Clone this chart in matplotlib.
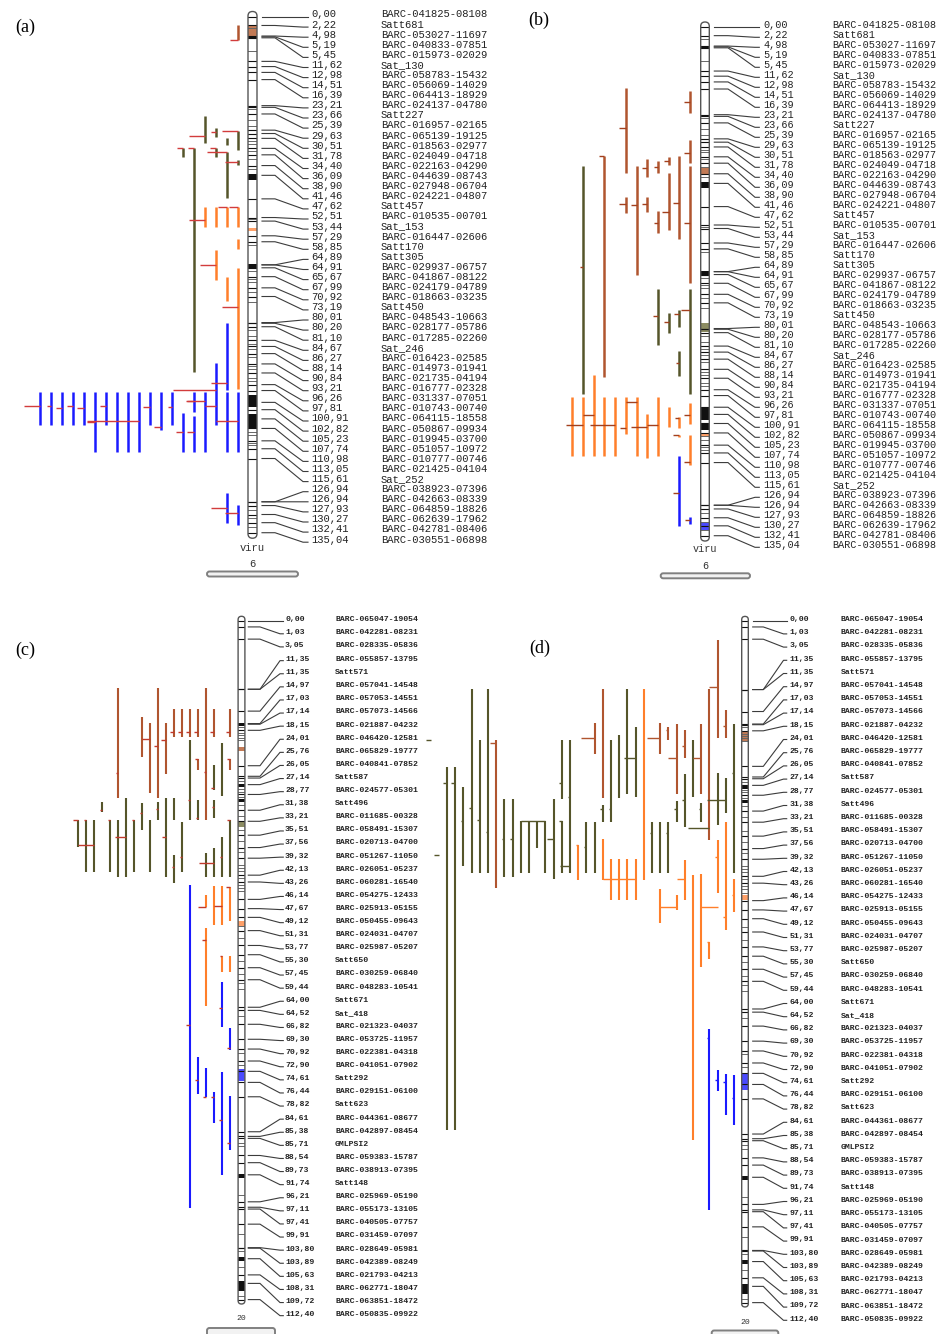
import matplotlib
matplotlib.use("Agg")
import matplotlib.pyplot as plt
from matplotlib.patches import FancyBboxPatch, Rectangle
from matplotlib import font_manager

# ---------------------------------------------------------------- data
# linkage group "viru" (6): marker positions (cM) and names
gm6_pos = [0.00, 2.22, 4.98, 5.19, 5.45, 11.62, 12.98, 14.51, 16.39, 23.21, 23.66,
           25.39, 29.63, 30.51, 31.78, 34.40, 36.09, 38.90, 41.46, 47.62, 52.51,
           53.44, 57.29, 58.85, 64.89, 64.91, 65.67, 67.99, 70.92, 73.19, 80.01,
           80.20, 81.10, 84.67, 86.27, 88.14, 90.84, 93.21, 96.26, 97.81, 100.91,
           102.82, 105.23, 107.74, 110.98, 113.05, 115.61, 126.94, 126.94, 127.93,
           130.27, 132.41, 135.04]
gm6_names = ["BARC-041825-08108", "Satt681", "BARC-053027-11697", "BARC-040833-07851",
             "BARC-015973-02029", "Sat_130", "BARC-058783-15432", "BARC-056069-14029",
             "BARC-064413-18929", "BARC-024137-04780", "Satt227", "BARC-016957-02165",
             "BARC-065139-19125", "BARC-018563-02977", "BARC-024049-04718",
             "BARC-022163-04290", "BARC-044639-08743", "BARC-027948-06704",
             "BARC-024221-04807", "Satt457", "BARC-010535-00701", "Sat_153",
             "BARC-016447-02606", "Satt170", "Satt305", "BARC-029937-06757",
             "BARC-041867-08122", "BARC-024179-04789", "BARC-018663-03235", "Satt450",
             "BARC-048543-10663", "BARC-028177-05786", "BARC-017285-02260", "Sat_246",
             "BARC-016423-02585", "BARC-014973-01941", "BARC-021735-04194",
             "BARC-016777-02328", "BARC-031337-07051", "BARC-010743-00740",
             "BARC-064115-18558", "BARC-050867-09934", "BARC-019945-03700",
             "BARC-051057-10972", "BARC-010777-00746", "BARC-021425-04104", "Sat_252",
             "BARC-038923-07396", "BARC-042663-08339", "BARC-064859-18826",
             "BARC-062639-17962", "BARC-042781-08406", "BARC-030551-06898"]
gm6_extra = [3.0, 9.0, 24.2, 27.0, 28.5, 32.5, 33.2, 35.0, 37.2, 39.8, 53.0, 59.8,
             66.5, 68.5, 69.3, 72.0, 74.5, 82.0, 83.5, 85.5, 87.0, 89.0, 91.5, 92.3,
             94.5, 95.3, 108.6, 109.5, 111.5, 112.2, 129.0, 131.3, 133.5]

# linkage group 20
gm20_pos = [0.00, 1.03, 3.05, 11.35, 11.35, 14.97, 17.03, 17.14, 18.15, 24.01, 25.76,
            26.05, 27.14, 28.77, 31.38, 33.21, 35.51, 37.56, 39.32, 42.13, 43.26, 46.14,
            47.67, 49.12, 51.31, 53.77, 55.30, 57.45, 59.44, 64.00, 64.52, 66.82, 69.30,
            70.92, 72.90, 74.61, 76.44, 78.82, 84.61, 85.38, 85.71, 88.54, 89.73, 91.74,
            96.21, 97.11, 97.41, 99.91, 103.80, 103.89, 105.63, 108.31, 109.72, 112.40]
gm20_names = ["BARC-065047-19054", "BARC-042281-08231", "BARC-028335-05836",
              "BARC-055857-13795", "Satt571", "BARC-057041-14548", "BARC-057053-14551",
              "BARC-057073-14566", "BARC-021887-04232", "BARC-046420-12581",
              "BARC-065829-19777", "BARC-040841-07852", "Satt587", "BARC-024577-05301",
              "Satt496", "BARC-011685-00328", "BARC-058491-15307", "BARC-020713-04700",
              "BARC-051267-11050", "BARC-026051-05237", "BARC-060281-16540",
              "BARC-054275-12433", "BARC-025913-05155", "BARC-050455-09643",
              "BARC-024031-04707", "BARC-025987-05207", "Satt650", "BARC-030259-06840",
              "BARC-048283-10541", "Satt671", "Sat_418", "BARC-021323-04037",
              "BARC-053725-11957", "BARC-022381-04318", "BARC-041051-07902", "Satt292",
              "BARC-029151-06100", "Satt623", "BARC-044361-08677", "BARC-042897-08454",
              "GMLPSI2", "BARC-059383-15787", "BARC-038913-07395", "Satt148",
              "BARC-025969-05190", "BARC-055173-13105", "BARC-040505-07757",
              "BARC-031459-07097", "BARC-028649-05981", "BARC-042389-08249",
              "BARC-021793-04213", "BARC-062771-18047", "BARC-063851-18472",
              "BARC-050835-09922"]
gm20_extra = [17.6, 18.6, 19.0, 19.4, 19.8, 26.6, 27.9, 28.3, 29.2, 30.5, 32.4, 34.6,
              36.5, 38.3, 40.5, 41.0, 41.5, 42.6, 43.8, 44.3, 44.8, 50.5, 52.6, 56.3,
              58.5, 60.0, 61.0, 65.5, 71.5, 73.5, 86.5, 87.0, 95.0, 101.5, 104.4,
              107.0, 111.8]

# QTL intervals: (column, trait, start cM, end cM, peak cM, peak-tick reach in columns)
qtl_a = [
    (0, 'br', 2.1, 6.0, 6.0, 0.7),
    (3, 'ol', 25.9, 32.9, 31.2, 1.4), (2, 'ol', 29.0, 31.3, 30.2, 0.4),
    (0, 'ol', 29.9, 34.8, 29.9, 1.4), (1, 'ol', 31.7, 33.5, 32.6, 0.0),
    (1, 'ol', 35.3, 47.4, 35.3, 1.8), (0, 'ol', 37.4, 38.8, 38.0, 1.2),
    (5, 'ol', 34.3, 36.7, 34.3, 0.5), (4, 'ol', 34.3, 93.0, 34.3, 0.5),
    (2, 'ol', 34.3, 36.7, 34.3, 0.5),
    (3, 'or', 49.8, 54.9, 53.2, 1.4), (2, 'or', 49.8, 54.9, 53.2, 0.0),
    (1, 'or', 49.8, 54.9, 49.8, 0.8), (0, 'or', 49.8, 54.9, 49.8, 0.8),
    (0, 'or', 58.1, 60.7, 58.1, 0.0), (2, 'or', 61.0, 68.9, 64.9, 1.4),
    (1, 'or', 68.0, 74.4, 72.0, 0.0), (0, 'or', 65.7, 97.5, 75.9, 1.4),
    (1, 'bl', 80.2, 97.7, 95.8, 1.4), (2, 'bl', 90.7, 106.8, 101.9, 1.0),
    (2, 'bl', 97.7, 97.7, 97.7, 3.9),
    (18, 'bl', 98.1, 106.8, 101.9, 1.4), (17, 'bl', 98.1, 106.8, 101.9, 0.3),
    (16, 'bl', 98.1, 106.8, 102.4, 0.5), (15, 'bl', 98.1, 106.8, 101.9, 0.5),
    (14, 'bl', 98.1, 106.8, 102.4, 0.6), (13, 'bl', 98.1, 113.8, 106.0, 0.7),
    (12, 'bl', 98.1, 106.8, 101.9, 0.5), (11, 'bl', 98.1, 113.8, 106.0, 0.0),
    (10, 'bl', 98.1, 113.8, 106.0, 0.0), (9, 'bl', 98.1, 113.8, 105.8, 4.7),
    (8, 'bl', 98.1, 106.8, 102.2, 0.6), (7, 'bl', 98.1, 108.1, 107.3, 0.6),
    (6, 'bl', 98.1, 106.8, 102.2, 0.3), (5, 'bl', 103.7, 113.8, 108.7, 0.6),
    (4, 'bl', 98.1, 103.4, 100.6, 0.6), (4, 'bl', 104.6, 113.8, 108.7, 0.6),
    (3, 'bl', 98.1, 113.8, 100.6, 1.7), (1, 'bl', 98.1, 113.8, 105.8, 0.0),
    (0, 'bl', 98.1, 113.8, 105.8, 2.0),
    (1, 'bl', 124.7, 132.4, 128.6, 1.4), (0, 'bl', 127.8, 133.0, 130.0, 1.2),
]
qtl_b = [
    (6, 'br', 16.2, 38.8, 26.8, 0.6), (0, 'br', 16.8, 22.8, 19.8, 0.6),
    (0, 'br', 29.9, 36.1, 33.5, 0.6), (8, 'br', 34.2, 93.0, 34.2, 0.5),
    (5, 'br', 36.8, 65.8, 47.2, 0.5), (4, 'br', 35.1, 39.7, 37.5, 0.5),
    (3, 'br', 35.5, 38.8, 37.0, 0.4), (2, 'br', 34.4, 36.6, 35.4, 0.4),
    (1, 'br', 34.2, 56.3, 46.7, 0.6), (2, 'br', 38.8, 53.8, 49.0, 0.6),
    (3, 'br', 48.8, 54.7, 51.9, 0.4), (6, 'br', 45.0, 49.2, 46.9, 0.6),
    (4, 'br', 45.0, 49.0, 46.9, 0.5), (0, 'br', 36.8, 67.8, 52.1, 0.6),
    (10, 'ol', 36.8, 97.5, 63.6, 0.3), (3, 'ol', 69.6, 84.4, 76.7, 0.5),
    (2, 'ol', 75.8, 81.3, 78.2, 0.4), (1, 'ol', 75.1, 79.7, 76.2, 0.5),
    (0, 'ol', 69.6, 97.5, 75.1, 0.8), (1, 'ol', 85.9, 92.6, 89.2, 0.3),
    (9, 'or', 92.3, 113.8, 103.0, 1.0), (11, 'or', 98.1, 113.8, 105.6, 0.0),
    (10, 'or', 98.1, 113.8, 105.6, 1.6), (8, 'or', 98.1, 113.8, 105.6, 0.0),
    (7, 'or', 98.1, 113.8, 105.6, 2.3), (6, 'or', 98.1, 108.0, 106.3, 0.5),
    (5, 'or', 98.1, 113.8, 99.4, 1.0), (4, 'or', 102.7, 114.5, 106.1, 1.5),
    (3, 'or', 98.1, 113.8, 105.6, 1.0), (2, 'or', 100.8, 106.1, 103.4, 0.0),
    (1, 'or', 103.4, 106.5, 103.9, 0.4), (1, 'or', 108.3, 108.9, 108.3, 0.6),
    (0, 'or', 99.7, 105.4, 103.0, 0.6), (0, 'or', 108.3, 116.2, 115.4, 0.6),
    (1, 'bl', 113.8, 132.5, 123.6, 0.6), (0, 'bl', 130.0, 131.9, 130.9, 0.5),
]
qtl_c = [
    (14, 'br', 11.2, 29.3, 25.2, 0.3), (11, 'br', 15.9, 22.5, 19.6, 0.0),
    (10, 'br', 17.0, 28.6, 19.6, 1.0), (9, 'br', 11.2, 29.4, 20.7, 0.5),
    (8, 'br', 17.0, 25.3, 19.8, 0.6), (7, 'br', 14.7, 19.2, 18.4, 0.5),
    (6, 'br', 14.7, 19.2, 18.4, 0.5), (5, 'br', 14.7, 19.2, 18.4, 0.5),
    (4, 'br', 14.7, 19.2, 18.4, 0.5), (3, 'br', 11.2, 33.0, 25.0, 0.3),
    (2, 'br', 14.7, 19.2, 18.4, 0.5), (0, 'br', 14.7, 19.2, 18.4, 0.5),
    (4, 'br', 22.9, 24.7, 22.9, 0.4), (0, 'br', 22.9, 24.7, 22.9, 0.4),
    (5, 'ol', 19.8, 33.0, 29.7, 0.3), (2, 'ol', 23.9, 28.0, 27.7, 0.4),
    (1, 'ol', 20.3, 29.1, 26.5, 0.0), (16, 'ol', 30.0, 31.6, 31.3, 0.3),
    (13, 'ol', 29.4, 42.4, 35.8, 1.4), (11, 'ol', 30.2, 34.7, 31.8, 0.3),
    (9, 'ol', 30.0, 33.0, 31.2, 0.3), (8, 'ol', 29.4, 42.4, 35.8, 0.5),
    (7, 'ol', 29.4, 33.0, 31.3, 0.0), (7, 'ol', 38.8, 43.4, 40.7, 0.3),
    (6, 'ol', 33.3, 41.6, 39.1, 0.3), (4, 'ol', 29.7, 33.0, 32.7, 0.3),
    (2, 'ol', 29.7, 32.7, 30.8, 0.3), (19, 'ol', 33.0, 37.4, 33.0, 0.6),
    (18, 'ol', 33.0, 41.6, 33.0, 0.3), (17, 'ol', 33.0, 41.6, 37.1, 2.0),
    (15, 'ol', 33.0, 41.6, 33.0, 0.3), (14, 'ol', 33.0, 42.4, 35.8, 0.0),
    (12, 'ol', 33.0, 41.6, 33.0, 0.3), (10, 'ol', 33.0, 41.6, 33.0, 0.0),
    (3, 'ol', 38.5, 42.4, 40.1, 0.0), (2, 'ol', 37.7, 42.4, 40.1, 1.9),
    (1, 'ol', 35.8, 42.4, 39.2, 0.3), (0, 'ol', 33.0, 42.4, 33.0, 0.4),
    (0, 'or', 44.1, 49.7, 44.1, 0.5), (1, 'or', 44.0, 50.4, 47.2, 1.0),
    (2, 'or', 44.0, 50.4, 47.2, 0.0), (3, 'or', 45.4, 47.4, 47.4, 1.0),
    (3, 'or', 50.9, 63.8, 52.9, 0.5), (1, 'or', 55.5, 58.1, 55.5, 0.3),
    (0, 'or', 55.5, 58.1, 55.5, 0.0),
    (5, 'bl', 43.8, 97.2, 66.9, 0.5), (1, 'bl', 59.8, 67.2, 64.2, 0.4),
    (0, 'bl', 67.5, 71.1, 70.8, 0.4), (4, 'bl', 72.2, 78.4, 76.0, 0.4),
    (3, 'bl', 74.1, 78.8, 78.8, 0.4), (2, 'bl', 78.1, 83.1, 78.8, 0.4),
    (1, 'bl', 74.8, 91.8, 82.7, 0.4), (0, 'bl', 78.7, 87.6, 86.5, 0.4),
]
qtl_d = [
    (37, 'ol', 19.6, 19.6, 19.6, 0.6), (36, 'ol', 38.6, 38.6, 38.6, 0.6),
    (35, 'ol', 24.1, 84.0, 26.8, 0.5), (34, 'ol', 24.1, 84.0, 26.8, 0.5),
    (33, 'ol', 27.4, 40.5, 33.0, 0.3), (32, 'ol', 11.3, 41.6, 30.9, 0.3),
    (31, 'ol', 19.7, 41.6, 32.9, 0.3), (30, 'ol', 11.3, 41.6, 34.9, 0.3),
    (29, 'br', 19.7, 44.1, 20.2, 0.8), (28, 'ol', 29.4, 42.3, 35.9, 0.3),
    (27, 'ol', 29.4, 42.3, 35.9, 0.3), (26, 'ol', 33.0, 41.6, 33.0, 0.0),
    (25, 'ol', 33.0, 41.6, 33.0, 1.0), (24, 'ol', 33.0, 37.5, 33.0, 1.0),
    (23, 'ol', 33.0, 41.6, 33.0, 1.0), (22, 'ol', 29.4, 42.5, 35.9, 0.8),
    (21, 'ol', 19.7, 29.4, 26.8, 0.3), (21, 'ol', 33.0, 41.6, 33.0, 0.3),
    (20, 'ol', 19.7, 41.6, 29.0, 0.3), (20, 'ol', 40.5, 40.5, 40.5, 1.2),
    (19, 'or', 37.0, 42.7, 37.0, 0.3), (18, 'ol', 33.1, 41.6, 37.3, 0.3),
    (17, 'ol', 33.1, 41.6, 33.1, 0.0), (17, 'br', 16.9, 21.9, 19.3, 1.6),
    (16, 'br', 11.3, 29.3, 29.3, 0.0), (16, 'ol', 30.4, 33.1, 31.1, 0.3),
    (15, 'ol', 19.7, 33.1, 31.1, 0.3), (14, 'ol', 18.8, 29.3, 22.7, 0.0),
    (13, 'ol', 11.3, 28.5, 28.5, 0.0), (12, 'ol', 17.5, 29.0, 22.7, 1.4),
    (11, 'or', 11.3, 42.7, 19.3, 0.0), (10, 'ol', 33.1, 41.6, 35.0, 0.3),
    (9, 'br', 16.9, 21.9, 19.3, 1.6), (9, 'ol', 33.1, 41.6, 33.1, 0.0),
    (8, 'br', 17.5, 19.7, 18.0, 0.3), (8, 'ol', 33.1, 41.6, 35.0, 0.3),
    (7, 'br', 17.0, 28.5, 22.7, 1.0), (7, 'ol', 29.8, 33.1, 31.0, 0.3),
    (6, 'br', 18.0, 22.7, 20.7, 0.3), (6, 'ol', 25.2, 34.0, 29.6, 0.3),
    (5, 'ol', 19.7, 29.0, 22.7, 0.0), (4, 'br', 17.0, 28.5, 22.7, 1.0),
    (4, 'ol', 30.1, 33.1, 31.0, 0.3), (3, 'br', 11.3, 36.1, 36.1, 0.0),
    (3, 'ol', 34.2, 34.2, 34.2, 2.6), (2, 'br', 3.2, 19.4, 11.0, 1.0),
    (2, 'ol', 25.1, 33.7, 29.6, 0.0), (1, 'br', 14.7, 19.4, 17.4, 0.3),
    (1, 'ol', 26.0, 31.7, 29.6, 2.3), (0, 'ol', 17.0, 41.6, 25.1, 0.3),
    (16, 'or', 36.0, 42.7, 42.6, 0.0), (15, 'or', 39.3, 46.0, 42.6, 0.0),
    (14, 'or', 39.3, 46.0, 42.6, 0.0), (13, 'or', 39.3, 46.0, 42.6, 0.0),
    (12, 'or', 39.3, 46.0, 42.6, 4.0), (9, 'or', 44.3, 49.8, 49.8, 0.0),
    (7, 'or', 45.2, 47.7, 47.2, 2.0), (6, 'or', 39.4, 46.0, 42.6, 1.0),
    (5, 'or', 41.9, 85.6, 41.9, 0.0), (4, 'or', 41.8, 57.0, 47.2, 0.0),
    (2, 'or', 47.2, 47.2, 47.2, 2.0), (2, 'or', 36.1, 44.9, 38.9, 0.3),
    (3, 'or', 52.9, 55.8, 52.9, 0.3), (1, 'or', 33.1, 51.0, 48.9, 0.3),
    (0, 'or', 42.6, 48.0, 45.2, 0.3),
    (3, 'bl', 67.3, 97.2, 68.8, 0.3), (2, 'bl', 74.1, 77.6, 75.7, 0.3),
    (1, 'bl', 74.7, 81.5, 76.1, 0.3), (0, 'bl', 74.9, 83.2, 78.6, 0.3),
]

# coloured segments on the chromosome bar (start cM, end cM, trait)
bands_a = [(2.3, 5.8, 'br'), (55.2, 56.0, 'or')]
bands_b = [(37.4, 39.0, 'br'), (78.5, 80.8, 'ol'), (108.0, 108.8, 'or'), (131.3, 133.5, 'bl')]
bands_c = [(20.9, 21.5, 'br'), (33.3, 34.1, 'ol'), (49.7, 50.5, 'or'), (74.3, 76.2, 'bl')]
bands_d = [(18.3, 19.8, 'br'), (45.2, 46.0, 'or'), (74.7, 77.4, 'bl')]
# densely marked stretches drawn solid
dense_a = [(4.9, 5.5), (41.0, 42.8), (64.8, 65.8), (98.9, 102.0), (104.0, 107.5)]
dense_b = [(4.9, 5.5), (41.0, 42.8), (64.8, 65.8), (80.0, 80.4), (100.9, 104.4), (105.4, 107.0)]
dense_c = [(17.0, 17.4), (27.0, 27.6), (29.6, 30.0), (91.6, 92.2), (105.3, 106.0), (109.3, 111.0)]
dense_d = [(17.0, 17.4), (27.0, 27.8), (29.6, 30.0), (91.6, 92.2), (105.3, 106.0), (109.3, 111.0)]

# ---------------------------------------------------------------- style
TRAIT_COL = {'br': '#b0552f', 'ol': '#55552a', 'or': '#ff7f2a', 'bl': '#1a1aff'}
BAND_COL = {'br': '#c27a55', 'ol': '#8c8c62', 'or': '#ffa068', 'bl': '#4a4aff'}

names_avail = {f.name for f in font_manager.fontManager.ttflist}
MONO = 'Liberation Mono' if 'Liberation Mono' in names_avail else 'DejaVu Sans Mono'
if 'Liberation Sans Narrow' in names_avail:
    NARROW, NARROW_FS, NARROW_W = 'Liberation Sans Narrow', 7.2, 'normal'
else:
    NARROW, NARROW_FS, NARROW_W = MONO, 5.9, 'bold'
SERIF = 'Liberation Serif' if 'Liberation Serif' in names_avail else 'DejaVu Serif'

W_PX, H_PX = 940, 1334
fig = plt.figure(figsize=(W_PX / 100, H_PX / 100), dpi=100)
fig.patch.set_facecolor('white')


def spread_rows(pos, gap, low):
    """Least-squares label rows keeping at least `gap` between neighbours."""
    z = [p - i * gap for i, p in enumerate(pos)]
    blocks = []
    for v in z:
        blocks.append([v, 1])
        while len(blocks) > 1 and blocks[-2][0] / blocks[-2][1] > blocks[-1][0] / blocks[-1][1]:
            s, c = blocks.pop()
            blocks[-1][0] += s
            blocks[-1][1] += c
    fit = []
    for s, c in blocks:
        fit += [max(s / c, low)] * c
    return [f + i * gap for i, f in enumerate(fit)]


def draw_map(region, y0, k, cx, cw, pos, names, extra, bands, dense, qtl,
             leads, num_x, name_x, font, fs, weight, row_px, slot0, step, bar_lw,
             tick_col, foot, scale_y, capsule, tag, tag_xy):
    L, T, Wd, Ht = region
    ax = fig.add_axes([L / W_PX, 1 - (T + Ht) / H_PX, Wd / W_PX, Ht / H_PX])
    ax.set_xlim(L, L + Wd)
    ax.set_ylim((T + Ht - y0) / k, (T - y0) / k)
    ax.axis('off')
    ax.patch.set_alpha(0)

    def cm(ypx):
        return (ypx - y0) / k

    # chromosome bar
    pad = (cw / 2 + 1) / k
    top, bot = pos[0] - pad, pos[-1] + pad
    body = FancyBboxPatch((cx - cw / 2, top), cw, bot - top,
                          boxstyle=f"round,pad=0,rounding_size={cw / 2}",
                          mutation_aspect=1 / k, facecolor='white',
                          edgecolor='none', zorder=2)
    ax.add_patch(body)
    for s, e, t in bands:
        r = Rectangle((cx - cw / 2, s), cw, e - s, facecolor=BAND_COL[t],
                      edgecolor='none', zorder=3)
        ax.add_patch(r)
        r.set_clip_path(body)
    for s, e in dense:
        r = Rectangle((cx - cw / 2, s), cw, e - s, facecolor='#111',
                      edgecolor='none', zorder=4)
        ax.add_patch(r)
        r.set_clip_path(body)
    for p in extra:
        ln, = ax.plot([cx - cw / 2, cx + cw / 2], [p, p], color='#666', lw=0.7, zorder=4)
        ln.set_clip_path(body)
    for p in pos:
        ln, = ax.plot([cx - cw / 2, cx + cw / 2], [p, p], color='#111', lw=0.8, zorder=4)
        ln.set_clip_path(body)
    outline = FancyBboxPatch((cx - cw / 2, top), cw, bot - top,
                             boxstyle=f"round,pad=0,rounding_size={cw / 2}",
                             mutation_aspect=1 / k, facecolor='none',
                             edgecolor='#555', lw=1.0, zorder=5)
    ax.add_patch(outline)

    # marker leaders and labels
    rows = spread_rows(pos, row_px / k, pos[0])
    x0, x1, x2, x3 = leads
    for p, r, nm in zip(pos, rows, names):
        ax.plot([x0, x1, x2, x3], [p, p, r, r], color='#3c3c3c', lw=0.8,
                solid_joinstyle='miter', zorder=3)
        ax.text(num_x, r + 0.4 / k, f"{p:.2f}".replace('.', ','), fontsize=fs,
                family=font, weight=weight, color='#222', va='baseline', ha='left')
        ax.text(name_x, r + 0.4 / k, nm, fontsize=fs, family=font, weight=weight,
                color='#222', va='baseline', ha='left')

    # QTL intervals with peak ticks
    for slot, trait, s, e, pk, reach in qtl:
        x = slot0 - slot * step
        col = TRAIT_COL[trait]
        if e > s:
            ax.plot([x, x], [s, e], color=col, lw=bar_lw, solid_capstyle='butt', zorder=6)
        if reach > 0:
            tc = tick_col if tick_col else col
            ax.plot([x - reach * step, x], [pk, pk], color=tc, lw=1.0,
                    solid_capstyle='butt', zorder=7)

    # group name, scale bar
    if foot:
        ax.text(cx, cm(foot[1]), foot[0], fontsize=fs, family=font, color='#333',
                ha='center', va='center')
    ax.text(cx, cm(scale_y[1]), scale_y[0], fontsize=fs, family=font, color='#333',
            ha='center', va='center')
    cl, cr, ct, cb = capsule
    ax.add_patch(FancyBboxPatch((cl, cm(ct)), cr - cl, cm(cb) - cm(ct),
                                boxstyle="round,pad=0,rounding_size=2.5",
                                mutation_aspect=1 / k, facecolor='#f2f2f2',
                                edgecolor='#808080', lw=1.4, zorder=2,
                                clip_on=False))
    fig.text(tag_xy[0] / W_PX, 1 - tag_xy[1] / H_PX, tag, fontsize=13,
             family=SERIF, ha='center', va='center')


draw_map((0, 0, 470, 600), 17.0, 3.819, 252.5, 9.0, gm6_pos, gm6_names, gm6_extra,
         bands_a, dense_a, qtl_a, (262, 275, 303, 308), 311, 381, MONO, 7.6, 'normal',
         10.1, 237.7, 11.0, 1.8, '#d23c3c', ('viru', 548), ('6', 564),
         (207, 298, 571.5, 576.5), '(a)', (25, 27))
draw_map((470, 0, 470, 600), 27.3, 3.765, 705.0, 8.6, gm6_pos, gm6_names, gm6_extra,
         bands_b, dense_b, qtl_b, (714.3, 728, 755, 759.3), 763, 832.3, MONO, 7.3,
         'normal', 10.0, 690.0, 10.7, 1.8, '#a3401e', ('viru', 549), ('6', 566),
         (660.7, 750, 573.3, 578.3), '(b)', (539, 20))
draw_map((0, 600, 470, 734), 620.7, 6.04, 241.5, 6.8, gm20_pos, gm20_names, gm20_extra,
         bands_c, dense_c, qtl_c, (248.3, 260, 280, 283.3), 285, 335, NARROW, NARROW_FS,
         NARROW_W, 13.1, 230.0, 8.0, 1.5, '#c0392b', None, ('20', 1318),
         (207, 275, 1328, 1338), '(c)', (25, 650))
draw_map((420, 600, 520, 734), 620.7, 6.067, 745.0, 6.6, gm20_pos, gm20_names, gm20_extra,
         bands_d, dense_d, qtl_d, (752.7, 763.3, 783.5, 786.7), 789.3, 840.7, NARROW,
         NARROW_FS, NARROW_W, 13.2, 734.0, 8.2, 1.5, None, None, ('20', 1322),
         (711.7, 778.3, 1330.5, 1340), '(d)', (540, 648))

fig.savefig('out.png', dpi=100, facecolor='white')
